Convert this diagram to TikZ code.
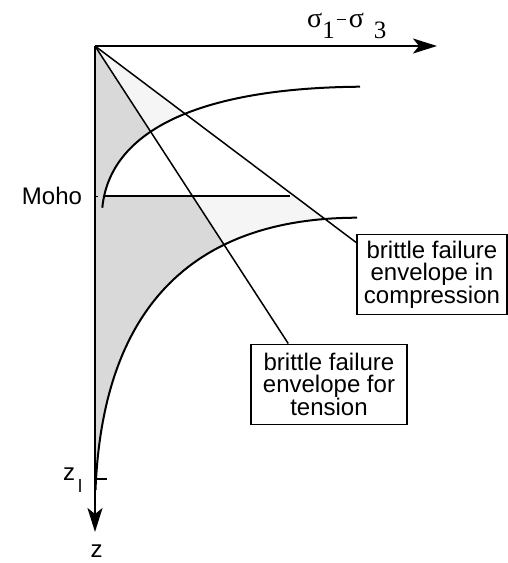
\documentclass[tikz,border=0pt]{standalone}
\usepackage{fontspec}
\setmainfont{Liberation Sans}
\newfontfamily\greekserif{Liberation Serif}
\usetikzlibrary{arrows.meta,calc}
\definecolor{darkfill}{RGB}{217,217,217}
\definecolor{lightfill}{RGB}{245,245,245}
\newcommand{\bigtxt}{\fontsize{24}{24}\selectfont}
\begin{document}
\begin{tikzpicture}[x=1pt,y=-1pt,
  axis/.style={line width=2pt,-{Stealth[length=24pt,width=15pt,inset=6pt]}},
  curve/.style={line width=2pt},
  envline/.style={line width=1.5pt},
  labelbox/.style={draw,line width=1.5pt,align=center,font=\fontsize{24}{22.5}\selectfont,inner sep=0pt,minimum height=80pt},
  lbl/.style={inner sep=0pt}]
\useasboundingbox (0,0) rectangle (508,563);
\coordinate (O) at (95,46);
\coordinate (Tfar) at (455.7,600);
\coordinate (Cfar) at (834.6,600);
% crust shading
\begin{scope}
\clip (0,0) rectangle (508,196);
\clip (102.3,207.7) .. controls (110,130) and (200,88) .. (360,86.7) -- (520,86.7) -- (520,-10) -- (-10,-10) -- (-10,207.7) -- cycle;
\fill[darkfill] (O) -- (Tfar) -- (95,600) -- cycle;
\fill[lightfill] (O) -- (Cfar) -- (Tfar) -- cycle;
\end{scope}
% mantle shading
\begin{scope}
\clip (0,196) rectangle (508,563);
\clip (95.5,490) .. controls (103,300) and (200,218) .. (357,217.7) -- (520,217.7) -- (520,-10) -- (-10,-10) -- (-10,490) -- cycle;
\fill[darkfill] (O) -- (Tfar) -- (95,600) -- cycle;
\fill[lightfill] (O) -- (Cfar) -- (Tfar) -- cycle;
\end{scope}
% curves
\draw[curve] (102.3,207.7) .. controls (110,130) and (200,88) .. (360,86.7);
\draw[curve] (95.5,490) .. controls (103,300) and (200,218) .. (357,217.7);
% Moho line
\coordinate (mohoL) at (105,196);
\coordinate (mohoR) at (290,196);
\draw[envline] (mohoL) -- (mohoR);
\draw[line width=1pt] (95,196) -- (98,196);
% boxes
\node[labelbox,minimum width=156pt] (tbox) at (329,384.3) {brittle failure\\envelope for\\tension};
\node[labelbox,minimum width=150pt] (cbox) at (432,274.3) {brittle failure\\envelope in\\compression};
\draw[envline] (O) -- ($(tbox.north west)+(38,0)$);
\draw[envline] (O) -- ($(cbox.north west)+(0,9)$);
% axes
\coordinate (xend) at (437,46);
\coordinate (zend) at (95,532);
\draw[axis] (O) -- (xend);
\draw[axis] (O) -- (zend);
\coordinate (zlt) at (107,479);
\draw[line width=1.5pt] (95,479) -- (zlt);
% labels
\node[lbl] (moho) at (52,196) {\bigtxt Moho};
\node[lbl] (zlab) at (96.5,551) {\bigtxt z};
\node[lbl,anchor=base west] (zl) at (63,480) {\bigtxt z\kern3pt\raisebox{-12pt}{\fontsize{18}{18}\selectfont l}};
\node[anchor=base west,inner sep=0pt] (sig) at (307,27) {\greekserif\fontsize{28}{28}\selectfont σ\raisebox{-11pt}{\fontsize{25}{25}\selectfont 1}\kern2pt\raisebox{7pt}{\rule{9pt}{1.3pt}}\kern3pt σ\kern10pt\raisebox{-11pt}{\fontsize{25}{25}\selectfont 3}};
\end{tikzpicture}
\end{document}
